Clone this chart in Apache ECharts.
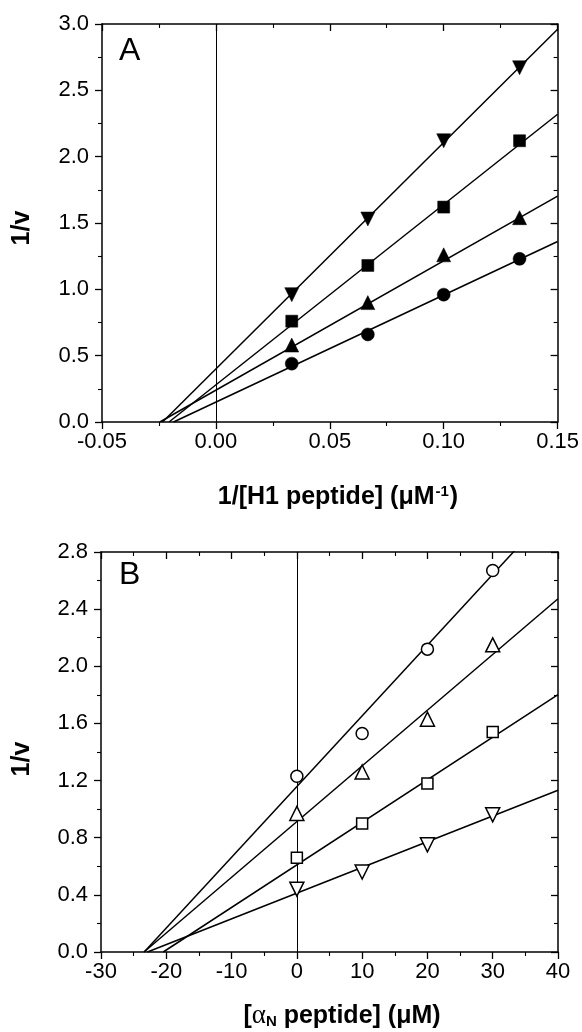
<!DOCTYPE html>
<html>
<head>
<meta charset="utf-8">
<script src="https://cdn.jsdelivr.net/npm/echarts@6/dist/echarts.min.js"></script>
<style>
html,body{margin:0;padding:0;background:#fff;}
#chart{width:582px;height:1032px;}
</style>
</head>
<body>
<div id="chart"></div>
<script>
// ---------- Panel A data ----------
var xA = [0.0333, 0.0667, 0.1, 0.1333];
var aCircle = [0.44, 0.66, 0.96, 1.23];
var aTriUp = [0.58, 0.90, 1.26, 1.54];
var aSquare = [0.76, 1.18, 1.62, 2.12];
var aTriDown = [0.96, 1.53, 2.12, 2.67];
// fitted lines (slope, intercept)
var aSlopes = [8.07, 9.75, 13.6, 17.07];
var aIntercepts = [0.15, 0.24, 0.28, 0.40];
var xATicks = [-0.05, 0.15, 0.05];
var yATicks = [0, 3.0, 0.5];

// ---------- Panel B data ----------
var xB = [0, 10, 20, 30];
var bCircle = [1.23, 1.53, 2.12, 2.67];
var bTriUp = [0.97, 1.26, 1.63, 2.15];
var bSquare = [0.66, 0.90, 1.18, 1.54];
var bTriDown = [0.44, 0.56, 0.75, 0.96];
var bSlopes = [0.0495, 0.039, 0.0298, 0.018];
var bIntercepts = [1.158, 0.913, 0.61, 0.412];
var xBTicks = [-30, 40, 10];
var yBTicks = [0, 2.8, 0.4];

var FONT = '"Liberation Sans", Arial, Helvetica, sans-serif';
var chart = echarts.init(document.getElementById('chart'), null, {renderer: 'canvas'});

function pairs(xs, ys) { return xs.map(function (x, i) { return [x, ys[i]]; }); }
function fitLine(m, b, xmax) { return [[-b / m, 0], [xmax, b + m * xmax]]; }

var grids = [
  {left: 102, top: 24, width: 456, height: 398},
  {left: 101, top: 552, width: 457, height: 400}
];

function mkX(grid, pos, t, dec, showLabel) {
  return {
    type: 'value', gridIndex: grid, position: pos,
    min: t[0], max: t[1], interval: t[2],
    axisLine: {show: true, onZero: false, lineStyle: {color: '#000', width: 1.5}},
    axisTick: {show: true, inside: pos === 'top', length: 7, lineStyle: {color: '#000', width: 1.3}},
    minorTick: {show: true, splitNumber: 2, length: 4, lineStyle: {color: '#000', width: 1.1}},
    splitLine: {show: false}, minorSplitLine: {show: false},
    axisLabel: {show: showLabel, margin: 9, color: '#000', fontSize: 22, fontFamily: FONT,
      formatter: function (v) { return dec >= 0 ? v.toFixed(dec) : String(Math.round(v)); }}
  };
}
function mkY(grid, pos, t, dec, showLabel) {
  return {
    type: 'value', gridIndex: grid, position: pos,
    min: t[0], max: t[1], interval: t[2],
    axisLine: {show: true, onZero: false, lineStyle: {color: '#000', width: 1.5}},
    axisTick: {show: true, inside: pos === 'right', length: 7, lineStyle: {color: '#000', width: 1.3}},
    minorTick: {show: true, splitNumber: 2, length: 4, lineStyle: {color: '#000', width: 1.1}},
    splitLine: {show: false}, minorSplitLine: {show: false},
    axisLabel: {show: showLabel, margin: 13, color: '#000', fontSize: 22, fontFamily: FONT,
      formatter: function (v) { return v.toFixed(dec); }}
  };
}

var xAxes = [
  mkX(0, 'bottom', xATicks, 2, true),
  mkX(0, 'top', xATicks, 2, false),
  mkX(1, 'bottom', xBTicks, -1, true),
  mkX(1, 'top', xBTicks, -1, false)
];
var yAxes = [
  mkY(0, 'left', yATicks, 1, true),
  mkY(0, 'right', yATicks, 1, false),
  mkY(1, 'left', yBTicks, 1, true),
  mkY(1, 'right', yBTicks, 1, false)
];

var series = [];
// zero lines
[[0, 0], [2, 2]].forEach(function (ax) {
  series.push({
    type: 'line', xAxisIndex: ax[0], yAxisIndex: ax[1], data: [], silent: true,
    markLine: {silent: true, symbol: ['none', 'none'], label: {show: false},
      lineStyle: {color: '#000', width: 1, type: 'solid'}, data: [{xAxis: 0}], animation: false}
  });
});
// fit lines
aSlopes.forEach(function (m, i) {
  series.push({type: 'line', xAxisIndex: 0, yAxisIndex: 0, data: fitLine(m, aIntercepts[i], xATicks[1]),
    showSymbol: false, symbol: 'none', clip: true, lineStyle: {color: '#000', width: 1.5}, z: 3, animation: false});
});
bSlopes.forEach(function (m, i) {
  series.push({type: 'line', xAxisIndex: 2, yAxisIndex: 2, data: fitLine(m, bIntercepts[i], xBTicks[1]),
    showSymbol: false, symbol: 'none', clip: true, lineStyle: {color: '#000', width: 1.5}, z: 3, animation: false});
});

function scat(xi, yi, data, sym, size, rot, filled) {
  return {type: 'scatter', xAxisIndex: xi, yAxisIndex: yi, data: data, symbol: sym, symbolSize: size,
    symbolRotate: rot, z: 5, animation: false,
    itemStyle: filled ? {color: '#000', borderColor: '#000', borderWidth: 0.5, opacity: 1}
                      : {color: '#fff', borderColor: '#000', borderWidth: 1.5, opacity: 1}};
}
series.push(scat(0, 0, pairs(xA, aCircle), 'circle', 13, 0, true));
series.push(scat(0, 0, pairs(xA, aTriUp), 'triangle', 14, 0, true));
series.push(scat(0, 0, pairs(xA, aSquare), 'rect', 12, 0, true));
series.push(scat(0, 0, pairs(xA, aTriDown), 'triangle', 14, 180, true));
series.push(scat(2, 2, pairs(xB, bCircle), 'circle', 12, 0, false));
series.push(scat(2, 2, pairs(xB, bTriUp), 'triangle', 14, 0, false));
series.push(scat(2, 2, pairs(xB, bSquare), 'rect', 11, 0, false));
series.push(scat(2, 2, pairs(xB, bTriDown), 'triangle', 14, 180, false));

var graphic = [
  {type: 'text', x: 119, y: 51, style: {text: 'A', font: '32px ' + FONT, fill: '#000', align: 'left', verticalAlign: 'middle'}},
  {type: 'text', x: 119, y: 575, style: {text: 'B', font: '32px ' + FONT, fill: '#000', align: 'left', verticalAlign: 'middle'}},
  {type: 'text', x: 22, y: 228, rotation: Math.PI / 2,
    style: {text: '1/v', font: 'bold 25px ' + FONT, fill: '#000', align: 'center', verticalAlign: 'middle'}},
  {type: 'text', x: 22, y: 759, rotation: Math.PI / 2,
    style: {text: '1/v', font: 'bold 25px ' + FONT, fill: '#000', align: 'center', verticalAlign: 'middle'}},
  {type: 'text', x: 338, y: 497,
    style: {text: '{a|1/[H1 peptide] (\u03bcM}{s|-1}{a|)}', align: 'center', verticalAlign: 'middle',
      rich: {a: {font: 'bold 25px ' + FONT, fill: '#000', color: '#000'},
             s: {font: 'bold 15px ' + FONT, fill: '#000', color: '#000', verticalAlign: 'top', padding: [0, 1, 10, 1]}}}},
  {type: 'text', x: 342, y: 1016,
    style: {text: '{a|[}{g|\u03b1}{n|N}{a| peptide] (\u03bcM)}', align: 'center', verticalAlign: 'middle',
      rich: {a: {font: 'bold 25px ' + FONT, fill: '#000', color: '#000'},
             g: {font: '27px "Liberation Serif", "Times New Roman", serif', fill: '#000', color: '#000'},
             n: {font: 'bold 15px ' + FONT, fill: '#000', color: '#000', verticalAlign: 'bottom', padding: [8, 0, 0, 0]}}}}
];

chart.setOption({
  animation: false,
  backgroundColor: '#fff',
  grid: grids,
  xAxis: xAxes,
  yAxis: yAxes,
  series: series,
  graphic: graphic
});
</script>
</body>
</html>
